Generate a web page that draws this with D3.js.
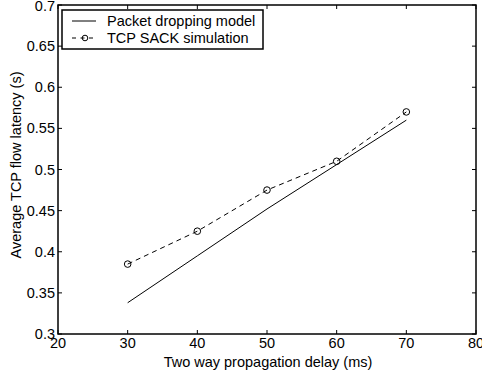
<!DOCTYPE html>
<html>
<head>
<meta charset="utf-8">
<script src="https://cdn.jsdelivr.net/npm/d3@7"></script>
<style>
  body { margin: 0; background: #fff; }
  text { font-family: "Liberation Sans", Arial, sans-serif; fill: #000; }
</style>
</head>
<body>
<div id="chart"></div>
<script>
// data
let delays = [30, 40, 50, 60, 70];
let modelLatency = [0.338, 0.395, 0.452, 0.506, 0.560];
let sackLatency = [0.385, 0.425, 0.475, 0.510, 0.570];
let xTicks = [20, 30, 40, 50, 60, 70, 80];
let yTicks = [0.3, 0.35, 0.4, 0.45, 0.5, 0.55, 0.6, 0.65, 0.7];
let seriesNames = ['Packet dropping model', 'TCP SACK simulation'];

const width = 482, height = 377;
const margin = { top: 5, right: 6, bottom: 43, left: 58 };
const fontSize = '14.5px';

let svg = d3.select('#chart').append('svg')
    .attr('width', width)
    .attr('height', height);

let x = d3.scaleLinear().domain([20, 80]).range([margin.left, width - margin.right]);
let y = d3.scaleLinear().domain([0.3, 0.7]).range([height - margin.bottom, margin.top]);

// ticks inward on all four sides
let tickLen = 4;
let g = svg.append('g');
g.selectAll('.xt-b').data(xTicks).enter().append('line')
    .attr('x1', d => x(d)).attr('x2', d => x(d))
    .attr('y1', y(0.3)).attr('y2', y(0.3) - tickLen)
    .attr('stroke', '#000');
g.selectAll('.xt-t').data(xTicks).enter().append('line')
    .attr('x1', d => x(d)).attr('x2', d => x(d))
    .attr('y1', y(0.7)).attr('y2', y(0.7) + tickLen)
    .attr('stroke', '#000');
g.selectAll('.yt-l').data(yTicks).enter().append('line')
    .attr('x1', x(20)).attr('x2', x(20) + tickLen)
    .attr('y1', d => y(d)).attr('y2', d => y(d))
    .attr('stroke', '#000');
g.selectAll('.yt-r').data(yTicks).enter().append('line')
    .attr('x1', x(80)).attr('x2', x(80) - tickLen)
    .attr('y1', d => y(d)).attr('y2', d => y(d))
    .attr('stroke', '#000');

// tick labels
g.selectAll('.xl').data(xTicks).enter().append('text')
    .attr('x', d => x(d)).attr('y', y(0.3) + 14)
    .attr('text-anchor', 'middle')
    .style('font-size', fontSize)
    .text(d => d);
g.selectAll('.yl').data(yTicks).enter().append('text')
    .attr('x', x(20) - 3).attr('y', d => Math.max(y(d) + 5, 11))
    .attr('text-anchor', 'end')
    .style('font-size', fontSize)
    .text(d => d3.format('')(d));

// axis titles
svg.append('text')
    .attr('x', (x(20) + x(80)) / 2 + 1).attr('y', height - 10)
    .attr('text-anchor', 'middle')
    .style('font-size', fontSize)
    .text('Two way propagation delay (ms)');
svg.append('text')
    .attr('transform', `translate(21, 165) rotate(-90)`)
    .attr('text-anchor', 'middle')
    .style('font-size', fontSize)
    .text('Average TCP flow latency (s)');

// series
let line = d3.line()
    .x((d, i) => x(delays[i]))
    .y(d => y(d));

svg.append('path')
    .datum(modelLatency)
    .attr('d', line)
    .attr('fill', 'none')
    .attr('stroke', '#000')
    .attr('stroke-width', 1);

svg.append('path')
    .datum(sackLatency)
    .attr('d', line)
    .attr('fill', 'none')
    .attr('stroke', '#000')
    .attr('stroke-width', 1)
    .attr('stroke-dasharray', '5,4');

svg.selectAll('.pt').data(sackLatency).enter().append('circle')
    .attr('cx', (d, i) => x(delays[i]))
    .attr('cy', d => y(d))
    .attr('r', 3.3)
    .attr('fill', 'none')
    .attr('stroke', '#000')
    .attr('stroke-width', 1);

// frame
svg.append('rect')
    .attr('x', x(20)).attr('y', y(0.7))
    .attr('width', x(80) - x(20)).attr('height', y(0.3) - y(0.7))
    .attr('fill', 'none')
    .attr('stroke', '#000')
    .attr('stroke-width', 1.5);

// legend
let legend = svg.append('g').attr('transform', 'translate(62, 10)');
legend.append('rect')
    .attr('width', 201).attr('height', 39)
    .attr('fill', '#fff')
    .attr('stroke', '#000')
    .attr('stroke-width', 1.5);
legend.append('line')
    .attr('x1', 10).attr('x2', 34).attr('y1', 11).attr('y2', 11)
    .attr('stroke', '#000');
legend.append('line')
    .attr('x1', 10).attr('x2', 35).attr('y1', 28).attr('y2', 28)
    .attr('stroke', '#000')
    .attr('stroke-dasharray', '4,4.5');
legend.append('circle')
    .attr('cx', 23).attr('cy', 28).attr('r', 2.8)
    .attr('fill', 'none').attr('stroke', '#000');
legend.selectAll('.lt').data(seriesNames).enter().append('text')
    .attr('x', 45).attr('y', (d, i) => 15.5 + i * 17)
    .style('font-size', fontSize)
    .text(d => d);
</script>
</body>
</html>
